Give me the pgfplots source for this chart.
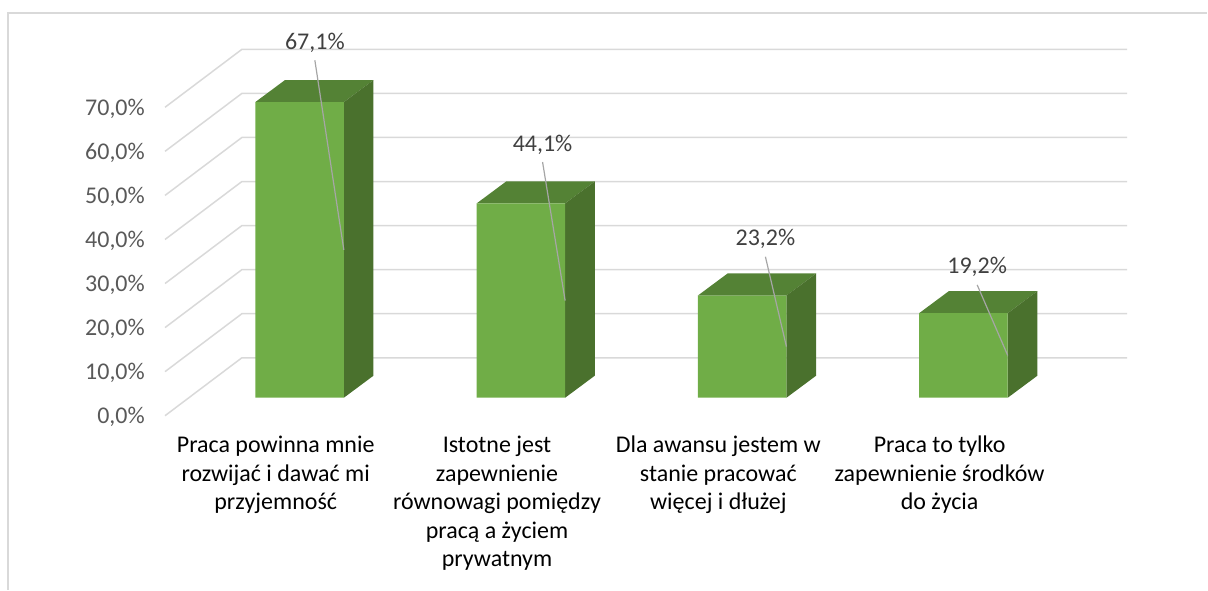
\documentclass[border=0pt]{standalone}
\usepackage{pgfplots}
\pgfplotsset{compat=1.18}
\usepackage{pgfplotstable}
\usepackage{fontspec}
\setmainfont{Carlito}
\newcommand\cf{\fontsize{24}{28.5}\selectfont}
\definecolor{frontc}{HTML}{70AD47}
\definecolor{topc}{HTML}{548235}
\definecolor{sidec}{HTML}{4A712D}
\definecolor{gridc}{HTML}{D9D9D9}
\definecolor{tickc}{HTML}{595959}
\definecolor{labc}{HTML}{404040}
\definecolor{leadc}{HTML}{A6A6A6}

\pgfplotstableread{
x v lx ly sy
1 67.1 1.069 80.5 76.6
2 44.1 2.098 57.4 53.5
3 23.2 3.105 36.05 32.0
4 19.2 4.062 29.7 25.6
}\data

\begin{document}
\begin{tikzpicture}
\begin{axis}[
  x=221.5pt, y=4.41pt,
  xmin=-0.35327, xmax=5.10045, ymin=-43.537, ymax=90.249,
  axis line style={draw=none},
  major tick length=0pt,
  clip=false,
  /pgf/number format/assume math mode=true,
  xtick={0.8922,1.8922,2.8922,3.8922},
  xticklabels={{\strut Praca powinna mnie\\rozwijać i dawać mi\\przyjemność},{\strut Istotne jest\\zapewnienie\\równowagi pomiędzy\\pracą a życiem\\prywatnym},{\strut Dla awansu jestem w\\stanie pracować\\więcej i dłużej},{\strut Praca to tylko\\zapewnienie środków\\do życia}},
  xticklabel style={anchor=north, inner sep=0pt, yshift=157pt, align=center, font=\cf, text=black},
  ytick={-4.08,5.92,15.92,25.92,35.92,45.92,55.92,65.92},
  yticklabels={{0,0\%},{10,0\%},{20,0\%},{30,0\%},{40,0\%},{50,0\%},{60,0\%},{70,0\%}},
  yticklabel style={anchor=east, inner sep=0pt, xshift=145pt, yshift=-1.5pt, font=\cf, text=tickc},
]
% gridlines: left diagonal + back wall line
\pgfplotsinvokeforeach{0,...,7}{
  \pgfmathsetmacro\gf{#1*10-4.08}
  \pgfmathsetmacro\gb{#1*10+9.07}
  \edef\tmp{\noexpand\addplot[gridc, line width=1.5pt] coordinates {(0.392,\gf) (0.7393,\gb) (4.7393,\gb)};}
  \tmp
}
% top and side faces of the bars
\pgfplotsinvokeforeach{0,...,3}{
  \pgfplotstablegetelem{#1}{x}\of\data \pgfmathsetmacro\cx{\pgfplotsretval}
  \pgfplotstablegetelem{#1}{v}\of\data \pgfmathsetmacro\va{\pgfplotsretval}
  \pgfmathsetmacro\vb{\va+5.0}
  \pgfmathsetmacro\xl{\cx-0.2}
  \pgfmathsetmacro\xr{\cx+0.2}
  \pgfmathsetmacro\xlb{\xl+0.134}
  \pgfmathsetmacro\xrb{\xr+0.134}
  \edef\tmp{\noexpand\addplot[fill=topc, draw=none] coordinates {(\xl,\va) (\xr,\va) (\xrb,\vb) (\xlb,\vb)} -- cycle;
    \noexpand\addplot[fill=sidec, draw=none] coordinates {(\xr,0) (\xr,\va) (\xrb,\vb) (\xrb,5.0)} -- cycle;}
  \tmp
}
% front faces
\addplot[ybar, bar width=0.4, fill=frontc, draw=none] table[x=x, y=v]{\data};
% leader lines
\pgfplotsinvokeforeach{0,...,3}{
  \pgfplotstablegetelem{#1}{x}\of\data \pgfmathsetmacro\cx{\pgfplotsretval}
  \pgfplotstablegetelem{#1}{v}\of\data \pgfmathsetmacro\va{\pgfplotsretval}
  \pgfplotstablegetelem{#1}{lx}\of\data \pgfmathsetmacro\lx{\pgfplotsretval}
  \pgfplotstablegetelem{#1}{sy}\of\data \pgfmathsetmacro\sy{\pgfplotsretval}
  \pgfmathsetmacro\ex{\cx+0.2}
  \pgfmathsetmacro\ey{\va/2}
  \edef\tmp{\noexpand\addplot[leadc, line width=1.2pt] coordinates {(\lx,\sy) (\ex,\ey)};}
  \tmp
}
% data labels
\addplot[draw=none, point meta=explicit,
  nodes near coords={\pgfmathprintnumber[fixed,fixed zerofill,precision=1,use comma,assume math mode=true]{\pgfplotspointmeta}\%},
  nodes near coords style={anchor=center, inner sep=0pt, font=\cf, text=labc}]
  table[x=lx, y=ly, meta=v]{\data};
% chart frame
\draw[gridc, line width=2pt] (rel axis cs:0.00662,0) -- (rel axis cs:0.00662,0.978) -- (rel axis cs:1,0.978);
\end{axis}
\end{tikzpicture}
\end{document}
